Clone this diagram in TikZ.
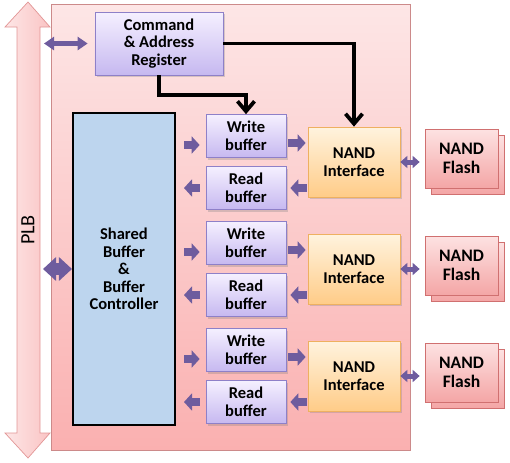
\documentclass[tikz,border=0pt]{standalone}
\usepackage{fontspec}
\setmainfont{Carlito}
\usetikzlibrary{arrows.meta,shadows}

\definecolor{boardtop}{RGB}{253,230,230}
\definecolor{boardbot}{RGB}{250,176,176}
\definecolor{boardline}{RGB}{204,138,138}
\definecolor{plbfill}{RGB}{250,196,196}
\definecolor{plbline}{RGB}{226,150,150}
\definecolor{regtop}{RGB}{245,240,255}
\definecolor{regbot}{RGB}{198,184,240}
\definecolor{regline}{RGB}{142,128,200}
\definecolor{iftop}{RGB}{255,243,222}
\definecolor{ifbot}{RGB}{255,204,136}
\definecolor{ifline}{RGB}{238,176,96}
\definecolor{fltop}{RGB}{253,226,226}
\definecolor{flbot}{RGB}{244,166,166}
\definecolor{flline}{RGB}{208,112,112}
\definecolor{shfill}{RGB}{189,213,238}
\definecolor{arrowpurple}{RGB}{110,92,158}

\tikzset{
  box/.style={draw, inner sep=0pt, align=center,
    font=\fontsize{9.4}{10}\selectfont\bfseries},
  regbox/.style={box, draw=regline, top color=regtop, bottom color=regbot,
    drop shadow={shadow xshift=0.4mm, shadow yshift=-0.4mm, opacity=0.3}},
  bufbox/.style={regbox, minimum width=16mm, minimum height=8.6mm},
  ifbox/.style={box, draw=ifline, top color=iftop, bottom color=ifbot,
    minimum width=18.4mm, minimum height=14mm,
    drop shadow={shadow xshift=0.4mm, shadow yshift=-0.4mm, opacity=0.3}},
  flbox/.style={box, draw=flline, top color=fltop, bottom color=flbot,
    minimum width=14.6mm, minimum height=11.8mm,
    font=\fontsize{10}{11}\selectfont\bfseries,
    copy shadow={shadow xshift=1.2mm, shadow yshift=-1.2mm,
      draw=flline, top color=fltop, bottom color=flbot}},
  shbox/.style={box, draw=black, line width=0.4mm, fill=shfill},
  blk/.style={draw=arrowpurple, line width=1.6mm,
    -{Triangle[length=1.6mm,width=3.4mm]}},
  dbl/.style={draw=arrowpurple, line width=1mm,
    {Triangle[length=1.4mm,width=2.4mm]}-{Triangle[length=1.4mm,width=2.4mm]}},
  ctl/.style={line width=0.75mm, -{Straight Barb[length=2mm,width=3.4mm]}}
}

\begin{document}
\begin{tikzpicture}[x=0.2mm,y=-0.2mm]
  \useasboundingbox (0,0) rectangle (510,462);
  % board and bus
  \draw[draw=boardline, top color=boardtop, bottom color=boardbot] (51,4) rectangle (410,450);
  \draw[draw=plbline, left color=boardtop, right color=plbfill]
    (28,2) -- (50,27) -- (40,27) -- (40,433) -- (50,433) -- (28,458)
    -- (5,433) -- (17,433) -- (17,27) -- (5,27) -- cycle;
  \node[rotate=90, font=\fontsize{11.5}{12}\selectfont] (plb) at (28,230) {PLB};
  \coordinate (plbR) at (40,230);

  \node[regbox, minimum width=25.6mm, minimum height=12.6mm] (cmd) at (159,43.5)
    {Command\\\& Address\\Register};
  \node[shbox, minimum width=20.4mm, minimum height=62.4mm] (sb) at (124,269)
    {Shared\\Buffer\\\&\\Buffer\\Controller};

  \draw[dbl, {Triangle[length=2mm,width=2.6mm]}-{Triangle[length=2mm,width=2.6mm]},
    shorten <=0.8mm, shorten >=1.4mm] (plbR |- cmd.west) -- (cmd.west);
  \draw[dbl, line width=2.4mm,
    {Triangle[length=2.6mm,width=4.6mm]}-{Triangle[length=2.6mm,width=4.6mm]},
    shorten <=0.6mm] (plbR |- sb.west) -- (sb.west);

  \foreach \i in {0,1,2}{
    \pgfmathsetmacro\y{136+107*\i}
    \node[bufbox] (wb\i) at (246,\y) {Write\\buffer};
    \node[bufbox] (rb\i) at (246,\y+52) {Read\\buffer};
    \node[ifbox] (ni\i) at (354,\y+26) {NAND\\Interface};
    \node[flbox] (nf\i) at (461.5,\y+22.5) {NAND\\Flash};
    \draw[blk, shorten <=1.6mm, shorten >=1.2mm] (sb.east |- 0,\y+9) -- (wb\i.west |- 0,\y+9);
    \draw[blk, shorten <=1.2mm, shorten >=1.6mm] (rb\i.west) -- (sb.east |- rb\i.west);
    \draw[blk, shorten <=0.4mm, shorten >=0.4mm] (wb\i.east |- 0,\y+7) -- (ni\i.west |- 0,\y+7);
    \draw[blk, shorten <=0.2mm, shorten >=0.8mm] (ni\i.west |- rb\i.east) -- (rb\i.east);
    \draw[dbl, shorten >=1mm] (ni\i.east) -- (nf\i.west |- ni\i.east);
  }

  \draw[ctl] (cmd.east) -| (ni0.north);
  \draw[ctl] (cmd.south) -- ++(0,20) -| (wb0.north);
\end{tikzpicture}
\end{document}
